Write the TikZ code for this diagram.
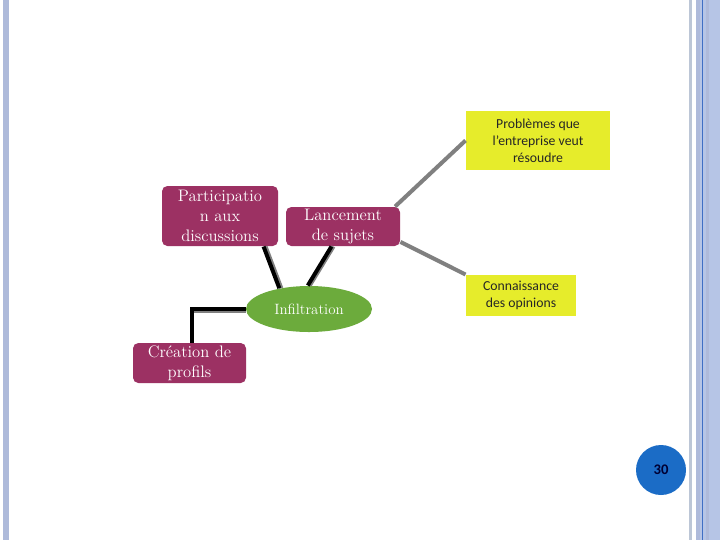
\documentclass[tikz,border=0pt]{standalone}
\usepackage{fontspec}
\newfontfamily\calibrifont{Carlito}
\usetikzlibrary{shapes.geometric}

\definecolor{maroonbox}{HTML}{9C3163}
\definecolor{greenell}{HTML}{6CAB3C}
\definecolor{yellowbox}{HTML}{E6EC2B}
\definecolor{bluedot}{HTML}{1B6CC6}
\definecolor{barblue}{HTML}{AEBADA}
\definecolor{barlight}{HTML}{B6C5E6}
\definecolor{bargrey}{HTML}{BCC6D6}
\definecolor{barline}{HTML}{3F6FC4}
\definecolor{linkgrey}{HTML}{808080}

\tikzset{every picture/.style={line width=0.75pt}}
\tikzset{
  mbox/.style={rectangle, rounded corners=4pt, fill=maroonbox, text=white,
    align=center, inner sep=0pt, font=\fontsize{12.5}{15}\selectfont},
  ybox/.style={rectangle, fill=yellowbox, text=black!85, align=center,
    inner sep=0pt, font=\calibrifont\fontsize{10.3}{12.75}\selectfont},
  blink/.style={line width=3pt, black},
  bshadow/.style={line width=3pt, linkgrey},
  glink/.style={line width=3pt, linkgrey}
}

\begin{document}
\begin{tikzpicture}[x=0.75pt,y=0.75pt,yscale=-1,xscale=1]
\useasboundingbox (0,0) rectangle (720,540);
\fill[white] (0,0) rectangle (720,540);

%Side bars
\fill[barblue] (3,0) rectangle (9,540);
\fill[bargrey] (689,0) rectangle (692,540);
\fill[barlight] (696,0) rectangle (720,540);
\fill[barblue] (696,0) rectangle (700,540);
\fill[barblue] (706,0) rectangle (709,540);
\draw[barline] (702.3,0) -- (702.3,540);

% Text Node
\node[mbox, minimum width=87pt, minimum height=45pt] (part) at (220,216) {Participatio\\n aux\\discussions};
% Text Node
\node[mbox, minimum width=85.5pt, minimum height=29.25pt] (lanc) at (343,226.5) {Lancement\\de sujets};
% Text Node
\node[ellipse, fill=greenell, text=white, minimum width=94.5pt, minimum height=34.5pt, inner sep=0pt, font=\fontsize{11.2}{12}\selectfont] (infi) at (309,309) {Infiltration};
% Text Node
\node[mbox, minimum width=84.75pt, minimum height=30pt] (crea) at (189.5,363) {Cr\'eation de\\profils};
% Text Node
\node[ybox, minimum width=108pt, minimum height=44.25pt] (prob) at (538,140.5) {Probl\`emes que\\l’entreprise veut\\r\'esoudre};
% Text Node
\node[ybox, minimum width=82.5pt, minimum height=30.75pt] (conn) at (521,295.5) {Connaissance\\des opinions};
% Text Node
\node[circle, fill=bluedot, minimum size=37.5pt, inner sep=0pt, text=black!80!blue, font=\calibrifont\bfseries\fontsize{11}{12}\selectfont] (page) at (661,470) {30};

%Straight Lines
\draw[bshadow] ([xshift=1.5]part.-35) -- ([xshift=1.5]infi.145);
\draw[blink] (part.-35) -- (infi.145);
%Straight Lines
\draw[bshadow] ([xshift=1.5]lanc.240) -- ([xshift=1.5]infi.93);
\draw[blink] (lanc.240) -- (infi.93);
%Elbow Line
\draw[bshadow] ([yshift=1.5]infi.west) -- ([yshift=1.5]infi.west -| crea.north);
\draw[blink, line join=miter] (infi.west) -| ([xshift=1.5]crea.north);
%Straight Lines
\draw[glink] (lanc.21) -- (prob.west);
%Straight Lines
\draw[glink] (lanc.-15) -- (conn.north west);
\end{tikzpicture}
\end{document}
